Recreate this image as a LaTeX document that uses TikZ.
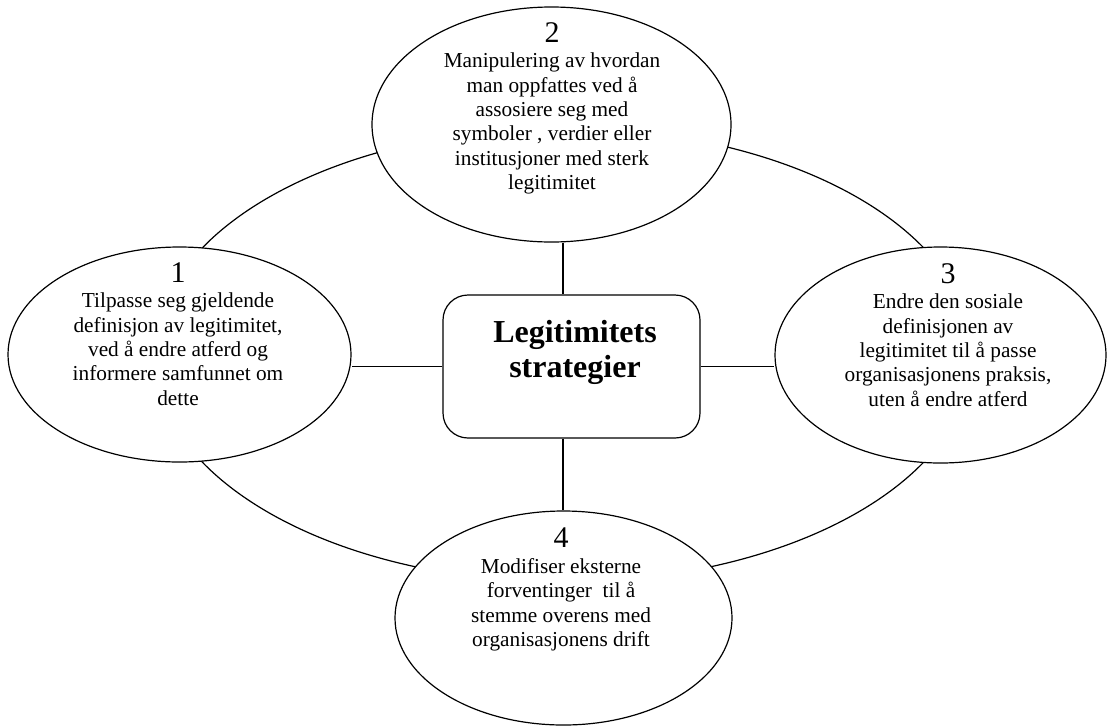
\documentclass[tikz,border=0pt]{standalone}
\usepackage{fontspec}
\setmainfont{Liberation Serif}
\usetikzlibrary{shapes.geometric}

\tikzset{
  outline/.style={draw=black, line width=1.2pt},
  bubble/.style={outline, ellipse, fill=white, inner sep=0pt},
  hub/.style={outline, rectangle, rounded corners=25pt, fill=white, inner sep=0pt,
              minimum width=257pt, minimum height=143pt},
  body/.style={align=center, inner sep=0pt, anchor=north,
               font=\fontsize{21.3}{24.4}\selectfont},
  title/.style={align=center, inner sep=0pt, anchor=north,
                font=\fontsize{32}{35}\selectfont\bfseries},
  link/.style={draw=black, line width=1.2pt}
}
\newcommand{\numtxt}[1]{{\fontsize{30}{30}\selectfont #1}}

\begin{document}
\begin{tikzpicture}[x=1pt, y=-1pt]
  \useasboundingbox (0,0) rectangle (1107,726);

  % outer ring joining the four strategies
  \node[outline, ellipse, inner sep=0pt, minimum width=818pt, minimum height=454pt] (ring) at (563,355) {};

  % strategy bubbles
  \node[bubble, minimum width=343pt, minimum height=215pt] (e1) at (179.5,354.5) {};
  \node[bubble, minimum width=359pt, minimum height=235pt] (e2) at (551.5,124.5) {};
  \node[bubble, minimum width=331pt, minimum height=216pt] (e3) at (940.5,355) {};
  \node[bubble, minimum width=337pt, minimum height=214pt] (e4) at (563.5,618) {};

  % central box
  \node[hub] (box) at (571.5,366.5) {};
  \node[title] (boxtext) at (575,320) {Legitimitets\\strategier};

  % spokes
  \coordinate (ax) at (563,0);
  \draw[link] (e2.south -| ax) -- (box.north -| ax);
  \draw[link] (box.south -| ax) -- (e4.north -| ax);
  \draw[link] (box.west) -- (box.west -| e1.east);
  \draw[link] (box.east) -- (box.east -| e3.west);

  % bubble texts
  \node[body] (t1) at (178,262) {\numtxt{1}\\[1.2pt]Tilpasse seg gjeldende\\definisjon av legitimitet,\\ved å endre atferd og\\informere samfunnet om\\dette};
  \node[body] (t2) at (552,22) {\numtxt{2}\\[1.2pt]Manipulering av hvordan\\man oppfattes ved å\\assosiere seg med\\symboler , verdier eller\\institusjoner med sterk\\legitimitet};
  \node[body] (t3) at (948,263) {\numtxt{3}\\[1.2pt]Endre den sosiale\\definisjonen av\\legitimitet til å passe\\organisasjonens praksis,\\uten å endre atferd};
  \node[body] (t4) at (561,528) {\numtxt{4}\\[1.2pt]Modifiser eksterne\\forventinger\ \ til å\\stemme overens med\\organisasjonens drift};
\end{tikzpicture}
\end{document}
